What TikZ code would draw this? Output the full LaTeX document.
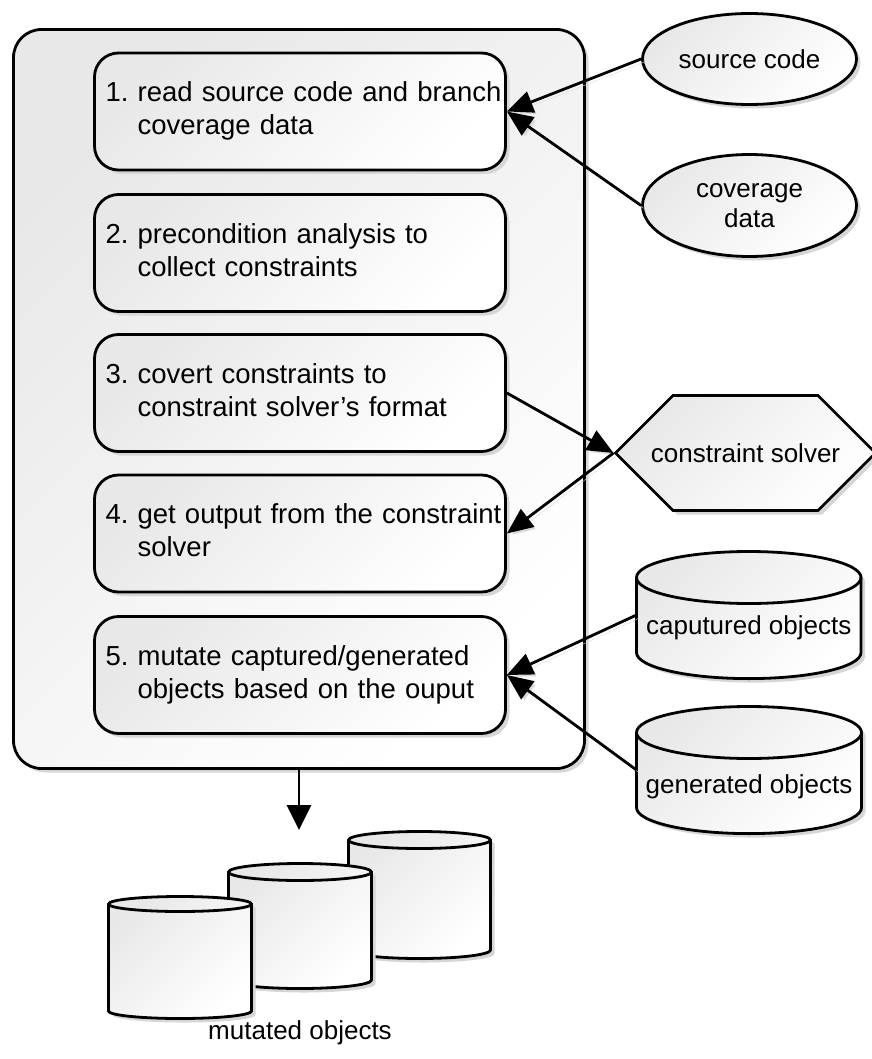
\documentclass[tikz,border=0pt]{standalone}
\usepackage{fontspec}
\setmainfont{Liberation Sans}
\usetikzlibrary{arrows.meta,shapes.geometric,shapes.symbols,shadows}

% numbered step: number, first line, second line (hanging indent)
\newcommand{\stepitem}[3]{\raisebox{-2pt}{\begin{tabular}{@{}l@{\ }l@{}}#1&#2\\&#3\end{tabular}}}

% cylinder outline: left x, top-ellipse centre y, bottom-arc centre y, x radius, y radius
\newcommand{\drum}[5]{%
  \path[draw,lw,grad,shadowed] (#1,#3)
    arc[start angle=180,end angle=360,x radius=#4pt,y radius=#5pt]
    -- ++(0,#2-#3)
    arc[start angle=0,end angle=180,x radius=#4pt,y radius=#5pt] -- cycle;
  \draw[lw] (#1,#2) arc[start angle=180,end angle=360,x radius=#4pt,y radius=#5pt];}

\begin{document}
\begin{tikzpicture}[x=1pt,y=-1pt,
  lw/.style={line width=2.8pt},
  shadowed/.style={drop shadow={shadow xshift=4pt,shadow yshift=-4pt,fill=black!16,opacity=1}},
  grad/.style={top color=black!9,bottom color=white,shading angle=45},
  stepbox/.style={draw,lw,grad,shadowed,rounded corners=24pt,
    minimum width=411pt,minimum height=117pt,text width=389pt,
    inner xsep=11pt,inner ysep=0pt,align=left,
    font=\fontsize{27.5}{33}\selectfont},
  oval/.style={ellipse,draw,lw,grad,shadowed,inner sep=1pt,align=center,
    font=\fontsize{26}{30}\selectfont},
  body/.style={draw=none,inner sep=0pt,outer sep=0pt},
  label/.style={inner sep=0pt,font=\fontsize{26}{30}\selectfont},
  conn/.style={lw,-{Triangle[length=26pt,width=22pt]},
    preaction={draw=black!14,transform canvas={shift={(3pt,-3pt)}}}}
]
\useasboundingbox (0,0) rectangle (871,1059);

% enclosing process box
\node[draw,lw,grad,shadowed,rounded corners=28pt,
      minimum width=571pt,minimum height=739pt] (outer) at (299,399) {};

% the five steps
\node[stepbox] (s1) at (300,111.5) {\stepitem{1.}{read source code and branch}{coverage data}};
\node[stepbox] (s2) at (300,253)   {\stepitem{2.}{precondition analysis to}{collect constraints}};
\node[stepbox] (s3) at (300,393)   {\stepitem{3.}{covert constraints to}{constraint solver’s format}};
\node[stepbox] (s4) at (300,533.5) {\stepitem{4.}{get output from the constraint}{solver}};
\node[stepbox] (s5) at (300,675)   {\stepitem{5.}{mutate captured/generated}{objects based on the ouput}};

% inputs
\node[oval,minimum width=214pt,minimum height=91pt]  (src) at (749.5,59)    {source code};
\node[oval,minimum width=214pt,minimum height=102pt] (cov) at (749.5,205.5) {coverage\\data};

% external solver: hexagonal outline with its label on top
\node[signal,signal to=west and east,signal pointer angle=90,draw,lw,grad,shadowed,
      minimum height=115pt,inner xsep=72.5pt,inner ysep=0pt] (solver) at (745.5,453) {};
\node[label] (solverlbl) at (745.5,453) {constraint solver};

% object stores
\drum{636.5}{577.5}{652.6}{112.25}{26}
\node[body,minimum width=224.5pt,minimum height=75pt] (capt) at (748.75,615) {};
\node[label] (captlbl) at (748.75,628) {caputured objects};

\drum{636.5}{732.5}{807.6}{112.5}{26}
\node[body,minimum width=225pt,minimum height=75pt] (gen) at (749,770) {};
\node[label] (genlbl) at (749,787) {generated objects};

% mutated objects (back to front)
\drum{348.5}{840}{950}{71}{8.5}
\drum{228.5}{872}{980}{71.5}{8.5}
\drum{108.5}{904}{1011}{71.5}{7.5}
\node[label] (mutlbl) at (300,1033) {mutated objects};

% connectors
\draw[conn] (src.west) -- (s1.east);
\draw[conn] (cov.west) -- (s1.east);
\draw[conn] (s3.east) -- (solver.west);
\draw[conn] (solver.west) -- (s4.east);
\draw[conn] (capt.west) -- (s5.east);
\draw[conn] (gen.west) -- (s5.east);
\coordinate (mutTop) at (299,830);
\draw[lw,-{Triangle[length=25pt,width=24pt]}] (outer.south) -- (mutTop);
\end{tikzpicture}
\end{document}
